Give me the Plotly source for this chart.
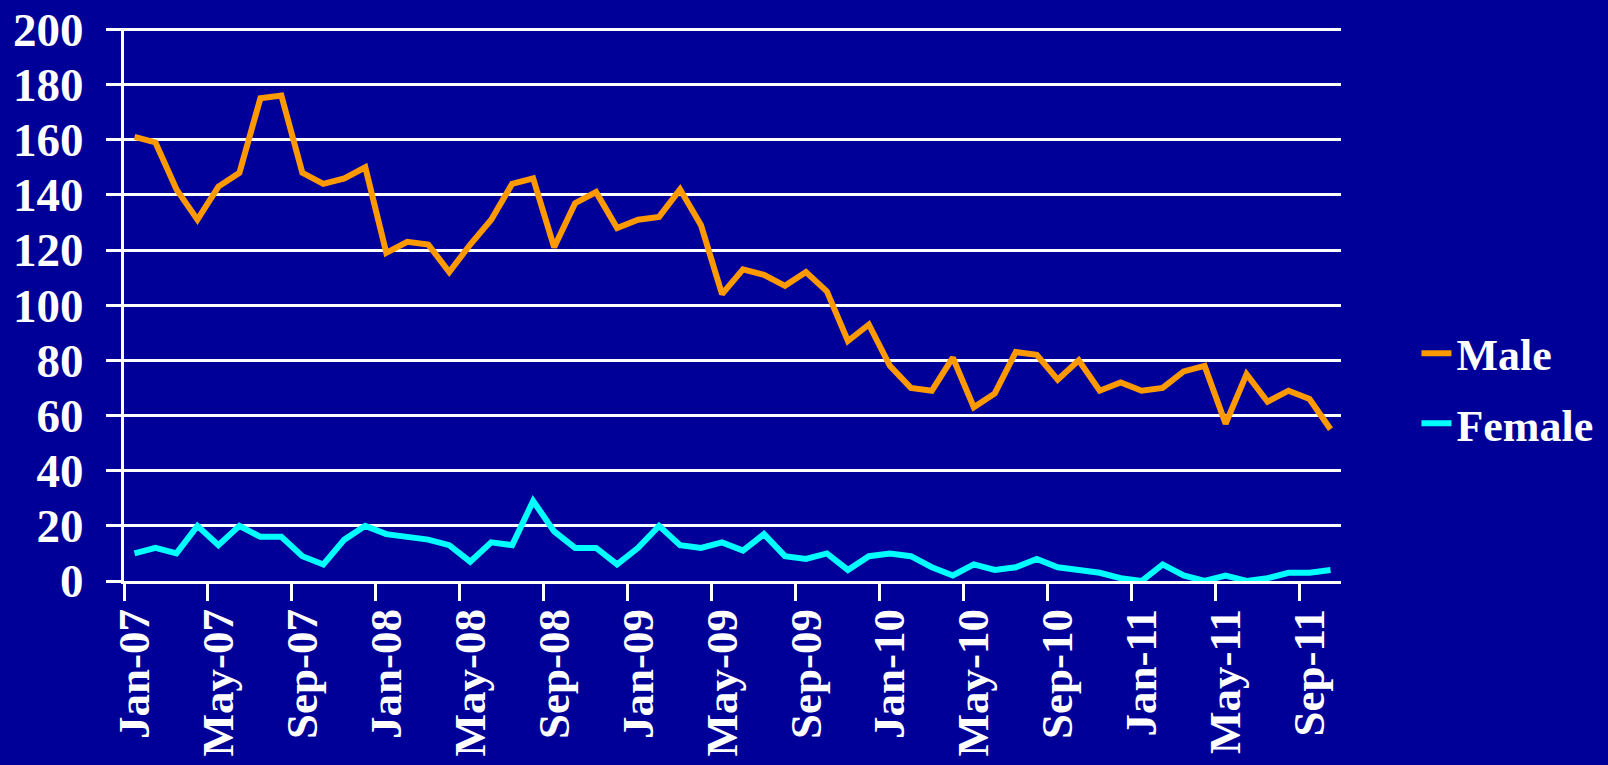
import pandas as pd
import plotly.graph_objects as go

# Monthly categories Jan-07 .. Oct-11 (58 months)
months = [d.strftime("%b-%y") for d in pd.date_range("2007-01-01", periods=58, freq="MS")]

male = [161, 159, 142, 131, 143, 148, 175, 176, 148, 144, 146, 150,
        119, 123, 122, 112, 122, 131, 144, 146, 121, 137, 141, 128,
        131, 132, 142, 129, 104, 113, 111, 107, 112, 105, 87, 93,
        78, 70, 69, 81, 63, 68, 83, 82, 73, 80, 69, 72,
        69, 70, 76, 78, 57, 75, 65, 69, 66, 55]

female = [10, 12, 10, 20, 13, 20, 16, 16, 9, 6, 15, 20,
          17, 16, 15, 13, 7, 14, 13, 29, 18, 12, 12, 6,
          12, 20, 13, 12, 14, 11, 17, 9, 8, 10, 4, 9,
          10, 9, 5, 2, 6, 4, 5, 8, 5, 4, 3, 1,
          0, 6, 2, 0, 2, 0, 1, 3, 3, 4]

tick_step = 4
tick_labels = months[::tick_step]
y_ticks = list(range(0, 201, 20))

idx = list(range(len(months)))
label_pos = idx[::tick_step]
boundary_pos = [p - 0.5 for p in label_pos]

BG = "#000099"
FONT = "Liberation Serif"

fig = go.Figure()
fig.add_trace(go.Scatter(x=idx, y=male, name="Male", mode="lines",
                         line=dict(color="#FF9900", width=6),
                         legendgroup="m"))
fig.add_trace(go.Scatter(x=idx, y=female, name="Female", mode="lines",
                         line=dict(color="#00FFFF", width=6),
                         legendgroup="f"))
# invisible trace on the label axis
fig.add_trace(go.Scatter(x=idx, y=male, xaxis="x2", mode="lines",
                         line=dict(width=0), showlegend=False, hoverinfo="skip",
                         opacity=0))

xr = [-0.5, len(months) - 0.5]
fig.update_layout(
    width=1608, height=765,
    paper_bgcolor=BG, plot_bgcolor=BG,
    margin=dict(l=124, r=267, t=28, b=184, autoexpand=False),
    font=dict(family=FONT, color="white", size=44, weight="bold"),
    showlegend=True,
    legend=dict(x=1.062, xanchor="left", y=0.348, yanchor="middle",
                traceorder="grouped", tracegroupgap=10,
                font=dict(family=FONT, size=44, color="white", weight="bold"),
                bgcolor="rgba(0,0,0,0)"),
    xaxis=dict(range=xr, tickmode="array", tickvals=boundary_pos,
               ticktext=[""] * len(boundary_pos), automargin=False,
               ticks="outside", ticklen=17, tickwidth=3, tickcolor="white",
               showline=True, linecolor="white", linewidth=3,
               showgrid=False, zeroline=False),
    xaxis2=dict(range=xr, overlaying="x", side="bottom", tickmode="array",
                tickvals=label_pos, ticktext=tick_labels, tickangle=-90,
                ticks="", ticklabelstandoff=18, automargin=False,
                tickfont=dict(family=FONT, size=45, color="white", weight="bold"),
                showline=False, showgrid=False, zeroline=False),
    yaxis=dict(range=[0, 200.5], tickmode="array", tickvals=y_ticks,
               ticks="outside", ticklen=15, tickwidth=3, tickcolor="white",
               showline=True, linecolor="white", linewidth=3,
               showgrid=True, gridcolor="white", gridwidth=3,
               zeroline=False, ticklabelstandoff=13, automargin=False,
               tickfont=dict(family=FONT, size=47, color="white", weight="bold")),
)

fig.write_html("out.html",
               config={"displayModeBar": False},
               post_script="document.body.style.margin='0';"
                           "document.body.style.background='%s';" % BG)
